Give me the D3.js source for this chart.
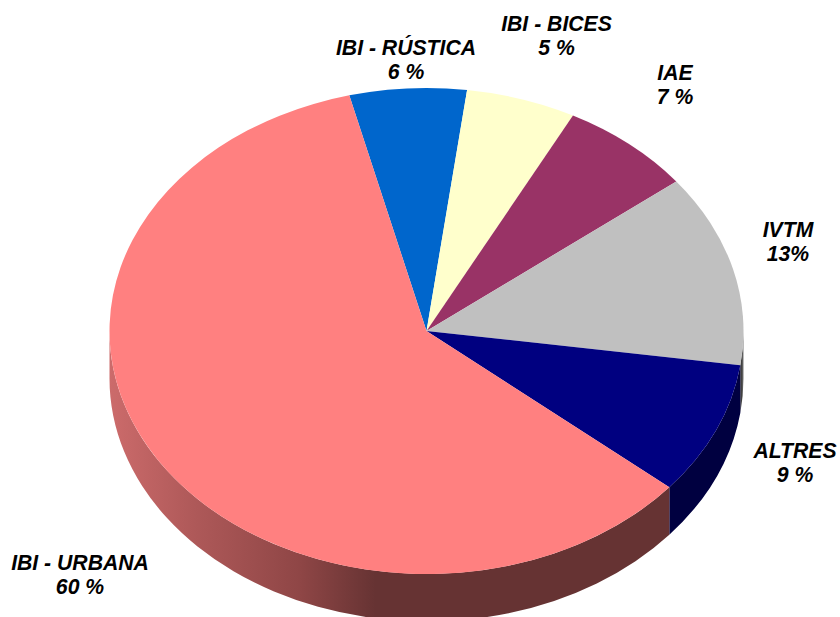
<!DOCTYPE html>
<html><head><meta charset="utf-8">
<script src="https://cdnjs.cloudflare.com/ajax/libs/d3/7.8.5/d3.min.js"></script>
<style>html,body{margin:0;padding:0;background:#fff;overflow:hidden}svg{display:block}
text{font-family:"Liberation Sans",Arial,sans-serif;font-weight:bold;font-style:italic;font-size:21.2px;fill:#000;text-anchor:middle}</style>
</head><body><svg id="c" width="840" height="617"></svg>
<script>
const categories = ["IBI - RÚSTICA","IBI - BICES","IAE","IVTM","ALTRES","IBI - URBANA"];
const values = [5.96,5.6,6.8,12.8,8.87,59.97];
const percentLabels = ["6 %","5 %","7 %","13%","9 %","60 %"];
const colors = ["#0066cc","#ffffcc","#993366","#c0c0c0","#000080","#ff8080"];
const labelX = [406,556.5,675,788,795,80];
const labelY = [54.5,30.5,80,237,458,570];

const W=840,H=617,cx=426.5,cy=331,rx=317,ry=243,depth=47.5,lh=24;
const svg=d3.select("#c");
const defs=svg.append("defs");
const startAngle=-14.1*Math.PI/180;
const arcs=d3.pie().sort(null).value(d=>d).startAngle(startAngle).endAngle(startAngle+2*Math.PI)(values);
const pt=a=>[cx+rx*Math.sin(a),cy-ry*Math.cos(a)];

const g=defs.append("linearGradient").attr("id","wall").attr("gradientUnits","userSpaceOnUse")
  .attr("x1",cx-rx).attr("x2",cx+rx).attr("y1",0).attr("y2",0);
[[0,"#cc6b6b"],[0.14,"#ad5858"],[0.3,"#8f4646"],[0.42,"#663333"],[1,"#663333"]].forEach(([o,c])=>g.append("stop").attr("offset",o).attr("stop-color",c));
const g2=defs.append("linearGradient").attr("id","wallGrey").attr("x1",0).attr("x2",1).attr("y1",0).attr("y2",0);
g2.append("stop").attr("offset",0).attr("stop-color","#222");
g2.append("stop").attr("offset",1).attr("stop-color","#777");

const walls=svg.append("g");
arcs.forEach((d,i)=>{
  const segs=[[d.startAngle,d.endAngle],[d.startAngle+2*Math.PI,d.endAngle+2*Math.PI]];
  segs.forEach(([s,e])=>{
    const a0=Math.max(s,Math.PI/2),a1=Math.min(e,3*Math.PI/2);
    if(a1<=a0) return;
    const [x0,y0]=pt(a0),[x1,y1]=pt(a1);
    const large=(a1-a0)>Math.PI?1:0;
    const p=`M${x0},${y0}A${rx},${ry} 0 ${large} 1 ${x1},${y1}L${x1},${y1+depth}A${rx},${ry} 0 ${large} 0 ${x0},${y0+depth}Z`;
    const fill=i===5?"url(#wall)":i===4?"#000040":i===3?"url(#wallGrey)":colors[i];
    walls.append("path").attr("d",p).attr("fill",fill);
  });
});

const arcGen=d3.arc().innerRadius(0).outerRadius(rx);
svg.append("g").attr("transform",`translate(${cx},${cy}) scale(1,${ry/rx})`)
  .selectAll("path").data(arcs).join("path")
  .attr("d",arcGen).attr("fill",(d,i)=>colors[i]);

const lab=svg.append("g");
categories.forEach((c,i)=>{
  lab.append("text").attr("x",labelX[i]).attr("y",labelY[i]).text(c);
  lab.append("text").attr("x",labelX[i]).attr("y",labelY[i]+lh).text(percentLabels[i]);
});
</script></body></html>
